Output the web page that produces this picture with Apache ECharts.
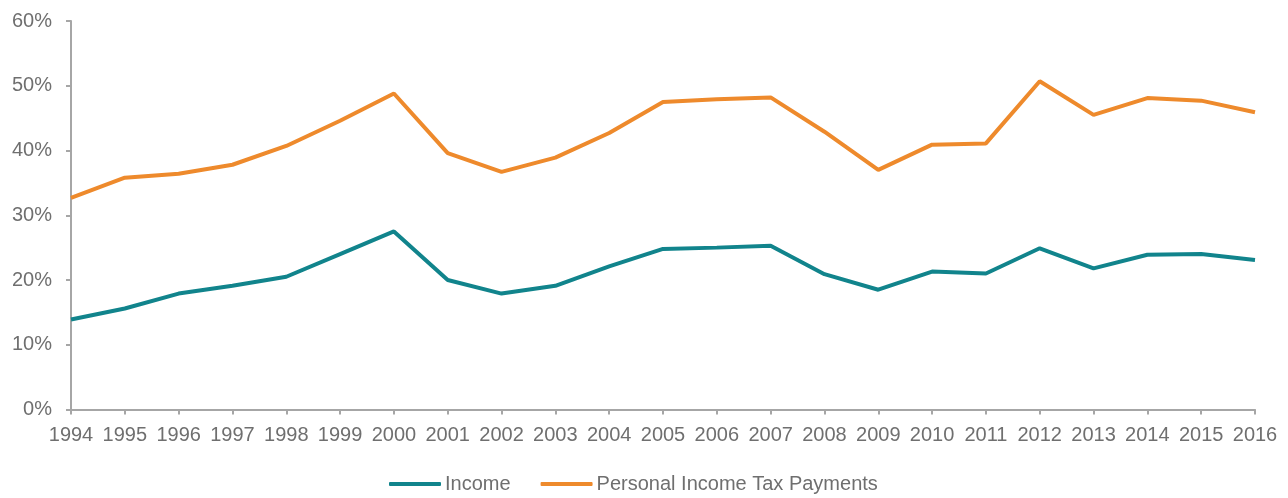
<!DOCTYPE html>
<html>
<head>
<meta charset="utf-8">
<script src="https://cdn.jsdelivr.net/npm/echarts@6/dist/echarts.min.js"></script>
<style>
html,body{margin:0;padding:0;background:#fff;}
#chart{width:1288px;height:498px;}
</style>
</head>
<body>
<div id="chart"></div>
<script>
const years = ['1994','1995','1996','1997','1998','1999','2000','2001','2002','2003','2004','2005','2006','2007','2008','2009','2010','2011','2012','2013','2014','2015','2016'];
const income = [13.9,15.6,17.9,19.1,20.5,24.0,27.5,20.0,17.9,19.1,22.1,24.8,25.0,25.3,20.9,18.5,21.3,21.0,24.9,21.8,23.9,24.0,23.1];
const taxPayments = [32.7,35.8,36.4,37.8,40.7,44.6,48.8,39.6,36.7,38.9,42.7,47.5,47.9,48.2,42.9,37.0,40.9,41.1,50.7,45.5,48.1,47.7,45.9];
const yTicks = {min:0, max:60, interval:10};

const textColor = '#6f6f6f';
const axisColor = '#a6a6a6';
const chart = echarts.init(document.getElementById('chart'));
chart.setOption({
  animation:false,
  textStyle:{fontFamily:'Liberation Sans, Arial, sans-serif'},
  grid:{left:71,right:33,top:21,bottom:88.5,containLabel:false},
  legend:{
    bottom:4,
    left:389,
    padding:0,
    itemWidth:52,
    itemHeight:4,
    itemGap:30,
    icon:'roundRect',
    textStyle:{color:textColor,fontSize:20,fontFamily:'Liberation Sans, Arial, sans-serif',padding:[0,0,0,-1]},
    data:['Income','Personal Income Tax Payments']
  },
  xAxis:{
    type:'category',
    data:years,
    boundaryGap:false,
    axisLine:{lineStyle:{color:axisColor,width:2}},
    axisTick:{show:true,length:5,lineStyle:{color:axisColor,width:2},alignWithLabel:true},
    axisLabel:{color:textColor,fontSize:20,margin:16,interval:0},
    splitLine:{show:false}
  },
  yAxis:{
    type:'value',
    min:yTicks.min,max:yTicks.max,interval:yTicks.interval,
    axisLine:{show:true,lineStyle:{color:axisColor,width:2}},
    axisTick:{show:true,length:5,lineStyle:{color:axisColor,width:2}},
    axisLabel:{color:textColor,fontSize:20,margin:19,formatter:v=>v+'%'},
    splitLine:{show:false}
  },
  series:[
    {name:'Income',type:'line',data:income,symbol:'none',lineStyle:{color:'#11848c',width:4},itemStyle:{color:'#11848c'}},
    {name:'Personal Income Tax Payments',type:'line',data:taxPayments,symbol:'none',lineStyle:{color:'#ee8a2c',width:4},itemStyle:{color:'#ee8a2c'}}
  ]
});
</script>
</body>
</html>
